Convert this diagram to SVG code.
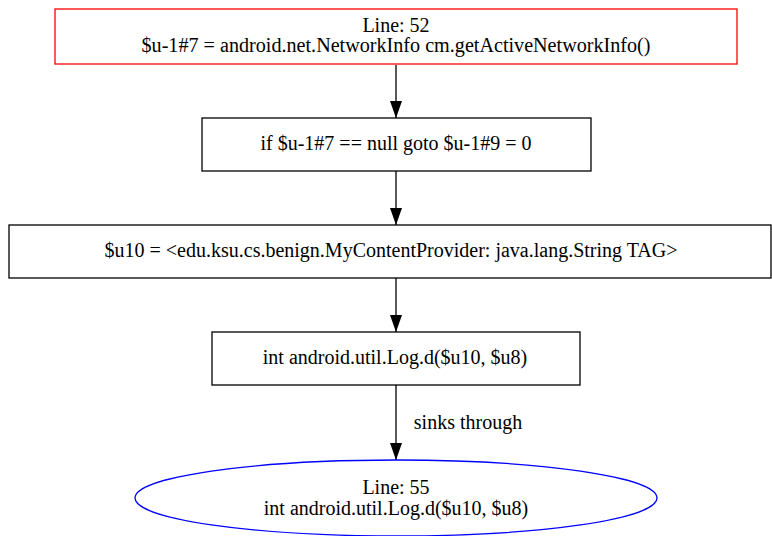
<svg xmlns="http://www.w3.org/2000/svg" width="772" height="536" viewBox="0 0 772 536">
<defs>
<style>
text{font-family:"Liberation Serif","Times New Roman",serif;font-size:20px;text-anchor:middle;fill:#000}
.box{fill:#fff;stroke:#000;stroke-width:1.3}
.edge{stroke:#000;stroke-width:1.3;fill:none}
</style>
<marker id="ah" viewBox="0 0 17 12" refX="17" refY="6" markerWidth="17" markerHeight="12" markerUnits="userSpaceOnUse" orient="auto">
<path d="M0,0 L17,6 L0,12 z" fill="#000"/>
</marker>
</defs>
<rect width="772" height="536" fill="#fff"/>
<g id="connectors">
<line class="edge" x1="396" y1="65" x2="396" y2="118" marker-end="url(#ah)"/>
<line class="edge" x1="396" y1="171" x2="396" y2="225" marker-end="url(#ah)"/>
<line class="edge" x1="396" y1="278" x2="396" y2="332" marker-end="url(#ah)"/>
<line class="edge" x1="396" y1="385" x2="396" y2="460" marker-end="url(#ah)"/>
<text x="468" y="429">sinks through</text>
</g>
<g id="n1">
<rect class="box" x="55" y="9" width="682" height="55" style="stroke:#f00"/>
<text x="396" y="32">Line: 52</text>
<text x="396" y="52" textLength="509" lengthAdjust="spacingAndGlyphs">$u-1#7 = android.net.NetworkInfo cm.getActiveNetworkInfo()</text>
</g>
<g id="n2">
<rect class="box" x="202" y="118" width="389" height="53"/>
<text x="396" y="150">if $u-1#7 == null goto $u-1#9 = 0</text>
</g>
<g id="n3">
<rect class="box" x="9" y="225" width="762" height="53"/>
<text x="391" y="257">$u10 = &lt;edu.ksu.cs.benign.MyContentProvider: java.lang.String TAG&gt;</text>
</g>
<g id="n4">
<rect class="box" x="212" y="332" width="368" height="53"/>
<text x="395" y="364">int android.util.Log.d($u10, $u8)</text>
</g>
<g id="n5">
<ellipse cx="396" cy="498" rx="261" ry="38" fill="#fff" stroke="#00f" stroke-width="1.3"/>
<text x="396" y="494">Line: 55</text>
<text x="396" y="515">int android.util.Log.d($u10, $u8)</text>
</g>
</svg>
